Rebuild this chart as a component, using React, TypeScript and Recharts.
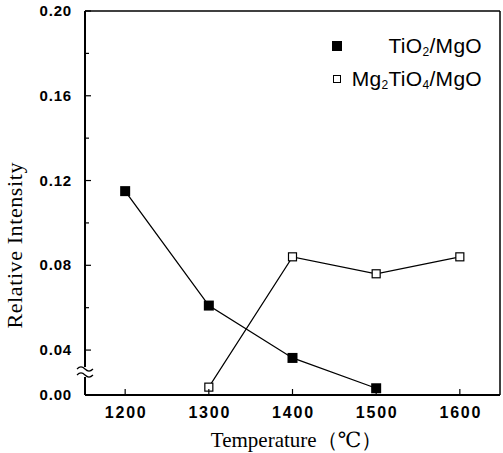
import React from 'react';
import { LineChart, Line, XAxis, YAxis, Label, ReferenceLine } from 'recharts';

// Temperature (°C) and relative intensity
const TEMPS = [1200, 1300, 1400, 1500, 1600];
const TIO2 = [0.115, 0.061, 0.033, 0.006, null];
const MG2TIO4 = [null, 0.007, 0.084, 0.076, 0.084];

const X_TICKS = [1200, 1300, 1400, 1500, 1600];
const X_DOMAIN = [1152, 1648];
const Y_TICKS = [0, 0.04, 0.08, 0.12, 0.16, 0.2];
const Y_TICK_LABELS = ['0.00', '0.04', '0.08', '0.12', '0.16', '0.20'];
const Y_MINOR = [0.06, 0.1, 0.14, 0.18];

// the axis is broken below 0.04: that part is drawn compressed
const BREAK = 0.04;
const SQUEEZE = 0.53;
const breakY = (v: number | null) => (v == null ? null : v >= BREAK ? v : BREAK - (BREAK - v) * SQUEEZE);

const data = TEMPS.map((t, i) => ({ t, tio2: TIO2[i], mg2tio4: MG2TIO4[i] }));

const MAJOR = Y_TICKS.map(v => breakY(v) as number);
const MINOR = Y_MINOR.map(v => breakY(v) as number);

const tickFont = { fontFamily: 'Arial, "Liberation Sans", sans-serif', fontWeight: 700 };
const serif = { fontFamily: '"Liberation Serif", "DejaVu Serif", serif' };

const YTick = (props: any) => {
  const { x, y, payload } = props;
  const ax = x + 13;
  const i = MAJOR.findIndex(v => Math.abs(v - payload.value) < 1e-9);
  if (i < 0) {
    return <line x1={ax} x2={ax + 4} y1={y} y2={y} stroke="#000" strokeWidth={1.2} />;
  }
  return (
    <g>
      {i > 0 && <line x1={ax} x2={ax + 6} y1={y} y2={y} stroke="#000" strokeWidth={1.2} />}
      {i === 0 && (
        <g stroke="#000" strokeWidth={1.2} fill="none">
          <rect x={ax - 2} y={y - 28} width={4} height={10} fill="#fff" stroke="none" />
          <path d={`M ${ax - 8} ${y - 26} q 4 -4 8 0 q 4 4 8 0`} />
          <path d={`M ${ax - 8} ${y - 20} q 4 -4 8 0 q 4 4 8 0`} />
        </g>
      )}
      <text x={x} y={y} dy={5} textAnchor="end" fontSize={15} letterSpacing={0.8} fill="#000" style={tickFont}>
        {Y_TICK_LABELS[i]}
      </text>
    </g>
  );
};

const XTick = (props: any) => {
  const { x, y, payload } = props;
  return (
    <g>
      <line x1={x} x2={x} y1={y} y2={y - 6} stroke="#000" strokeWidth={1.2} />
      <text x={x + 1} y={y + 23} textAnchor="middle" fontSize={16} letterSpacing={1.8} fill="#000" style={tickFont}>
        {payload.value}
      </text>
    </g>
  );
};

const FilledSquare = (props: any) => {
  const { cx, cy, index } = props;
  if (cx == null || cy == null) return <g key={index} />;
  return <rect key={index} x={cx - 5} y={cy - 5} width={10} height={10} fill="#000" />;
};

const OpenSquare = (props: any) => {
  const { cx, cy, index } = props;
  if (cx == null || cy == null) return <g key={index} />;
  return <rect key={index} x={cx - 4} y={cy - 4} width={8} height={8} fill="#fff" stroke="#000" strokeWidth={1.2} />;
};

const legendText = { fontFamily: 'Arial, "Liberation Sans", sans-serif', fontSize: 21, color: '#000', letterSpacing: 0.3 };
const sub = { fontSize: 12, verticalAlign: 'baseline', position: 'relative' as const, top: 3 };

export default function App() {
  return (
    <div style={{ position: 'absolute', left: 0, top: 0, width: 503, height: 453, background: '#fff' }}>
      <LineChart width={503} height={453} data={data} margin={{ top: 11, right: 3, bottom: 0, left: 0 }}>
        <XAxis
          dataKey="t"
          type="number"
          domain={X_DOMAIN}
          ticks={X_TICKS}
          height={58}
          axisLine={{ stroke: '#000', strokeWidth: 2 }}
          tickLine={false}
          tickSize={0}
          tickMargin={0}
          tick={<XTick />}
          interval={0}
        >
          <Label
            content={({ viewBox }: any) => (
              <text
                x={viewBox.x + viewBox.width / 2 + 4}
                y={447}
                textAnchor="middle"
                fontSize={21}
                fill="#000"
                style={serif}
              >
                Temperature（℃）
              </text>
            )}
          />
        </XAxis>
        <YAxis
          type="number"
          domain={[MAJOR[0], 0.2]}
          ticks={[...MAJOR, ...MINOR].sort((a, b) => a - b)}
          width={85}
          axisLine={{ stroke: '#000', strokeWidth: 2 }}
          tickLine={false}
          tickSize={0}
          tickMargin={13}
          tick={<YTick />}
          interval={0}
          allowDataOverflow
        >
          <Label
            content={({ viewBox }: any) => {
              const cy = viewBox.y + viewBox.height * 0.61;
              return (
                <text
                  x={22}
                  y={cy}
                  transform={`rotate(-90 22 ${cy})`}
                  textAnchor="middle"
                  fontSize={22}
                  letterSpacing={0.6}
                  fill="#000"
                  style={serif}
                >
                  Relative Intensity
                </text>
              );
            }}
          />
        </YAxis>
        <ReferenceLine y={0.2} stroke="#000" strokeWidth={1.5} />
        <ReferenceLine x={X_DOMAIN[1]} stroke="#000" strokeWidth={1.5} />
        <Line
          dataKey={(d: any) => breakY(d.tio2)}
          name="TiO2/MgO"
          stroke="#000"
          strokeWidth={1.3}
          dot={<FilledSquare />}
          isAnimationActive={false}
        />
        <Line
          dataKey={(d: any) => breakY(d.mg2tio4)}
          name="Mg2TiO4/MgO"
          stroke="#000"
          strokeWidth={1.2}
          dot={<OpenSquare />}
          isAnimationActive={false}
        />
      </LineChart>
      <div style={{ position: 'absolute', left: 330, top: 33, width: 152, ...legendText }}>
        <div style={{ display: 'flex', alignItems: 'center', height: 26 }}>
          <span style={{ width: 10, height: 10, background: '#000', display: 'inline-block', marginLeft: 2, flexShrink: 0 }} />
          <span style={{ marginLeft: 'auto', whiteSpace: 'nowrap' }}>
            TiO<span style={sub}>2</span>/MgO
          </span>
        </div>
        <div style={{ display: 'flex', alignItems: 'center', height: 26, marginTop: 7 }}>
          <span style={{ width: 6, height: 6, border: '1.2px solid #000', display: 'inline-block', marginLeft: 3, flexShrink: 0 }} />
          <span style={{ marginLeft: 'auto', whiteSpace: 'nowrap' }}>
            Mg<span style={sub}>2</span>TiO<span style={sub}>4</span>/MgO
          </span>
        </div>
      </div>
    </div>
  );
}
